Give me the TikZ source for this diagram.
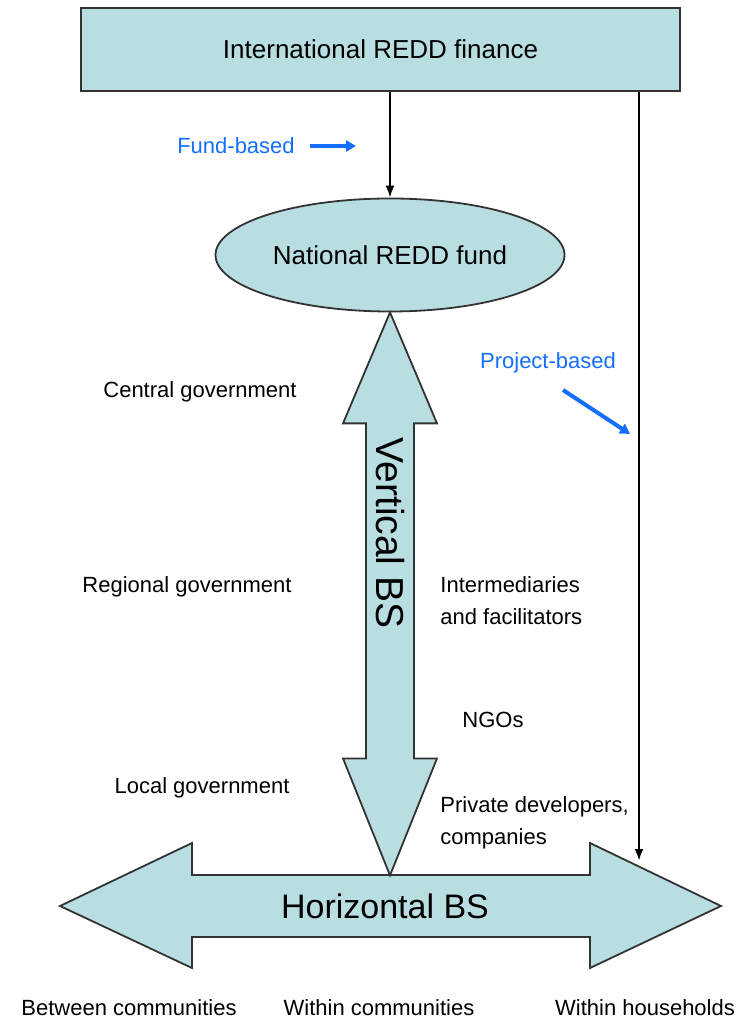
\documentclass[tikz,border=0pt]{standalone}
\usepackage{fontspec}
\setmainfont{Liberation Sans}
\usetikzlibrary{arrows.meta,calc,positioning,shapes.geometric}
\definecolor{reddteal}{RGB}{184,222,225}
\definecolor{reddblue}{RGB}{20,110,255}

\begin{document}
\begin{tikzpicture}[x=0.5pt,y=-0.5pt,
  finbox/.style={draw=black!80,line width=0.9pt,fill=reddteal,minimum width=299.5pt,minimum height=41.5pt,font=\fontsize{13}{15}\selectfont},
  fundoval/.style={ellipse,draw=black!80,line width=0.9pt,fill=reddteal,minimum width=174.5pt,minimum height=56.5pt,inner sep=0pt,font=\fontsize{13}{15}\selectfont},
  bigarrow/.style={draw=black!80,line width=0.9pt,fill=reddteal,line join=miter},
  lbl/.style={font=\fontsize{11}{16}\selectfont,align=left,inner sep=0pt},
  bluelbl/.style={lbl,text=reddblue},
  flow/.style={-{Latex[length=6pt,width=4.5pt]},line width=0.9pt},
  blueflow/.style={-{Triangle[length=5pt,width=5.5pt]},line width=2pt,draw=reddblue},
]
\useasboundingbox (0,0) rectangle (753,1020);

% finance source and national fund
\node[finbox] (intl) at (380.5,49.5) {International REDD finance};
\node[fundoval] (natfund) at (390,255) {National REDD fund};

% horizontal benefit sharing
\draw[bigarrow] (60,906) -- (192,843) -- (192,875) -- (590,875) -- (590,843) -- (721,906)
  -- (590,968) -- (590,937) -- (192,937) -- (192,968) -- cycle;
\node[font=\fontsize{17}{20}\selectfont] (hbs) at (385,906) {Horizontal BS};

% vertical benefit sharing
\draw[bigarrow] (natfund.south) -- ++(47,111) -- ++(-23,0) -- ++(0,335) -- ++(23,0) -- ++(-47,117)
  -- ++(-47,-117) -- ++(23,0) -- ++(0,-335) -- ++(-23,0) -- cycle;
\node[font=\fontsize{19.5}{22}\selectfont,rotate=-90] (vbs) at (390,533) {Vertical BS};

% finance flows
\coordinate (hhead) at (639,861);
\draw[flow] (intl.south -| natfund.north) -- (natfund.north);
\draw[flow,line width=1.3pt] (intl.south -| hhead) -- (hhead);

\node[bluelbl] (fundlbl) at (236,146) {Fund-based};
\coordinate (fundtip) at (356,146);
\draw[blueflow,shorten <=7.5pt] (fundlbl) -- (fundtip);
\node[bluelbl] (projlbl) at (548,363) {Project-based};
\coordinate (projtail) at (563,390);
\coordinate (projtip) at (630,434);
\draw[blueflow] (projtail) -- (projtip);

% actors
\node[lbl] (central) at (200,392) {Central government};
\node[lbl] (regional) at (187,587) {Regional government};
\node[lbl] (local) at (202,788) {Local government};
\node[lbl,anchor=west] (interm) at (440,601) {Intermediaries\\and facilitators};
\node[lbl,anchor=west] (ngos) at (462,720) {NGOs};
\node[lbl,anchor=west] (private) at (440,823) {Private developers,\\companies};

% levels
\node[lbl] (between) at (129,1008) {Between communities};
\node[lbl] (within) at (379,1008) {Within communities};
\node[lbl] (household) at (645,1008) {Within households};
\end{tikzpicture}
\end{document}
